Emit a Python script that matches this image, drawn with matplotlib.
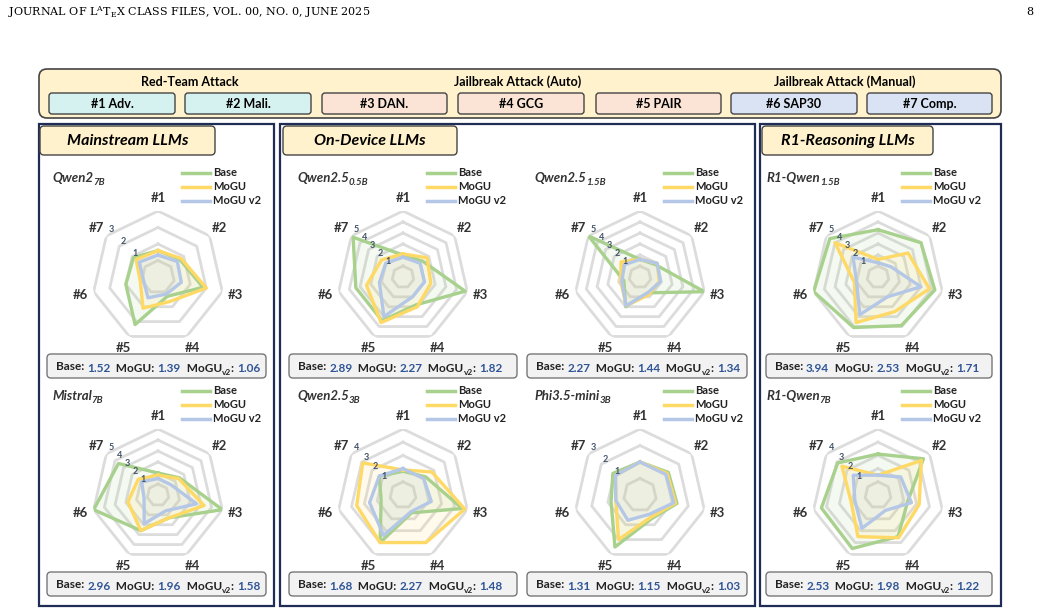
import matplotlib
matplotlib.use("Agg")
import matplotlib.pyplot as plt
from matplotlib.patches import FancyBboxPatch, Rectangle
import numpy as np

plt.rcParams['font.family'] = ['Lato', 'DejaVu Sans']

# ---- data -------------------------------------------------------------
axis_labels = ["#1", "#2", "#3", "#4", "#5", "#6", "#7"]
series_names = ["Base", "MoGU", "MoGU v2"]

model_names = ["Qwen2", "Qwen2.5", "Qwen2.5", "R1-Qwen",
               "Mistral", "Qwen2.5", "Phi3.5-mini", "R1-Qwen"]
model_subs = ["7B", "0.5B", "1.5B", "1.5B", "7B", "3B", "3B", "7B"]
ring_max = [3, 5, 5, 5, 5, 4, 3, 4]

base_vals = [
    [0.6, 0.7, 1.8, 0.3, 2.2, 1.0, 0.9],
    [1.0, 1.3, 4.8, 1.8, 3.4, 3.4, 4.8],
    [0.6, 0.8, 5.0, 0.6, 2.0, 0.5, 5.0],
    [3.3, 4.0, 4.3, 3.9, 4.1, 5.0, 4.6],
    [1.0, 1.5, 5.0, 1.3, 2.6, 5.0, 3.6],
    [0.8, 1.2, 3.6, 0.5, 3.0, 0.7, 1.3],
    [1.0, 1.2, 1.3, 0.6, 2.5, 0.8, 1.1],
    [2.1, 3.4, 1.3, 2.5, 3.5, 3.4, 2.9],
]
mogu_vals = [
    [0.6, 0.8, 2.0, 0.65, 1.1, 0.1, 0.7],
    [1.1, 1.8, 1.6, 2.0, 3.6, 2.4, 1.5],
    [0.6, 1.0, 0.8, 0.8, 1.9, 0.8, 1.2],
    [0.6, 2.5, 3.8, 2.5, 3.6, 1.2, 4.0],
    [0.8, 1.4, 3.3, 1.3, 2.6, 1.8, 1.3],
    [0.9, 1.8, 3.8, 3.0, 3.0, 2.6, 2.9],
    [1.0, 1.1, 1.2, 0.5, 2.0, 0.5, 0.9],
    [0.5, 3.2, 2.2, 2.6, 2.5, 1.1, 2.5],
]
mogu2_vals = [
    [0.33, 0.5, 0.45, 0.15, 0.4, -0.1, 0.45],
    [0.8, 1.0, 1.0, 1.0, 3.0, 1.2, 1.0],
    [0.6, 1.0, 0.9, 0.6, 1.9, 0.7, 0.8],
    [0.3, 0.5, 3.0, 1.0, 2.8, 1.0, 1.9],
    [0.5, 0.5, 2.6, 0.6, 1.9, 0.3, 0.9],
    [1.0, 1.0, 1.2, 0.4, 2.4, 1.6, 1.3],
    [1.0, 1.0, 1.1, 0.3, 0.7, 0.5, 0.9],
    [0.5, 1.2, 1.6, 0.3, 1.8, 0.8, 1.4],
]
avg_base = ["1.52", "2.89", "2.27", "3.94", "2.96", "1.68", "1.31", "2.53"]
avg_mogu = ["1.39", "2.27", "1.44", "2.53", "1.96", "2.27", "1.15", "1.98"]
avg_mogu2 = ["1.06", "1.82", "1.34", "1.71", "1.58", "1.48", "1.03", "1.22"]

groups = ["Red-Team Attack", "Jailbreak Attack (Auto)", "Jailbreak Attack (Manual)"]
attacks = ["#1 Adv.", "#2 Mali.", "#3 DAN.", "#4 GCG", "#5 PAIR", "#6 SAP30", "#7 Comp."]
sections = ["Mainstream LLMs", "On-Device LLMs", "R1-Reasoning LLMs"]

series_colors = ["#a9d18e", "#ffd966", "#b4c7e7"]
pill_colors = ["#d5f1f0", "#d5f1f0", "#fbe4d5", "#fbe4d5", "#fbe4d5", "#dae3f3", "#dae3f3"]
NAVY = "#1f2d55"
BLUE = "#2f5597"

W, H = 1041, 612
fig = plt.figure(figsize=(W / 100, H / 100), dpi=100)
cv = fig.add_axes([0, 0, 1, 1])
cv.set_xlim(0, W)
cv.set_ylim(H, 0)
cv.axis("off")

# page header
cv.text(8, 12, r"JOURNAL OF L$\mathregular{^A}$T$_\mathregular{E}$X CLASS FILES, VOL. 00, NO. 0, JUNE 2025",
        family="DejaVu Serif", fontsize=8, va="center")
cv.text(1033, 12, "8", family="DejaVu Serif", fontsize=8, va="center", ha="right")


def rbox(x0, y0, x1, y1, fc, ec="#555555", lw=1.0, pad=4):
    cv.add_patch(FancyBboxPatch((x0, y0), x1 - x0, y1 - y0,
                                boxstyle=f"round,pad=0,rounding_size={pad}",
                                fc=fc, ec=ec, lw=lw))


# attack legend box
rbox(39, 69, 1001, 118, "#fff2cc", ec="#444444", lw=1.2, pad=8)
for g, gx in zip(groups, [190, 518, 845]):
    cv.text(gx, 82, g, ha="center", va="center", fontsize=9, weight="bold")
pill_x = [(49, 175), (185, 311), (322, 447), (458, 584), (596, 721), (731, 857), (867, 992)]
for (a, b), lab, c in zip(pill_x, attacks, pill_colors):
    rbox(a, 93, b, 114, c, ec="#444444", lw=1.0, pad=3)
    cv.text((a + b) / 2, 104, lab, ha="center", va="center", fontsize=9, weight="bold")

# section panels
for x0, x1 in [(39, 274), (280, 755), (760, 1001)]:
    cv.add_patch(Rectangle((x0, 124), x1 - x0, 482, fc="none", ec=NAVY, lw=1.6))
for (x0, x1), s in zip([(40, 215), (283, 457), (762, 933)], sections):
    rbox(x0, 126, x1, 155, "#fff2cc", ec="#444444", lw=1.0, pad=4)
    cv.text((x0 + x1) / 2, 141, s, ha="center", va="center", fontsize=11.5,
            weight="bold", style="italic")

col_cx = [158, 403, 640, 878]
row_cy = [277, 495]
score_x = [(47, 266), (289, 517), (527, 747), (766, 992)]
score_y = [(354, 378), (572, 596)]
R = 66
theta = np.linspace(0, 2 * np.pi, 7, endpoint=False)
theta_c = np.append(theta, theta[0])


def chain(x, y, pieces):
    first = prev = None
    for txt, col, sub in pieces:
        kw = dict(fontsize=6 if sub else 8.5, weight="bold", color=col, va="baseline")
        if prev is None:
            first = prev = cv.text(x, y, txt, ha="left", **kw)
        else:
            prev = cv.annotate(txt, xy=(1, 0), xycoords=(prev, first),
                               xytext=(0, -2 if sub else 0), textcoords="offset points",
                               ha="left", **kw)


for i in range(8):
    r, c = divmod(i, 4)
    cx, cy = col_cx[c], row_cy[r]
    m = ring_max[i]
    ax = fig.add_axes([(cx - R) / W, 1 - (cy + R) / H, 2 * R / W, 2 * R / H], projection="polar")
    ax.set_theta_offset(np.pi / 2)
    ax.set_theta_direction(-1)
    ax.set_ylim(-1, m)
    ax.axis("off")
    ax.patch.set_alpha(0)
    for k in range(0, m + 1):
        ax.plot(theta_c, np.full(8, k), color="#dcdcdc", lw=2, zorder=1)
        if k >= 1:
            ax.text(theta[6] + 0.12, k, str(k), ha="center", va="center",
                    fontsize=6.5, weight="bold", color="#44546a", zorder=5)
    for vals, col in zip([base_vals[i], mogu_vals[i], mogu2_vals[i]], series_colors):
        v = np.append(vals, vals[0])
        ax.fill(theta_c, v, color=col, alpha=0.12, zorder=2)
        ax.plot(theta_c, v, color=col, lw=2.4, zorder=3)
    for t, lab in zip(theta, axis_labels):
        ax.text(t, m + (m + 1) * 0.2, lab, ha="center", va="center",
                fontsize=9.5, weight="bold", color="#333333", clip_on=False)

    # model title with subscript
    tx = cx - 106 if c != 3 else cx - 112
    ty = cy - 95
    t0 = cv.text(tx, ty, model_names[i], fontsize=9.5, weight="bold", style="italic",
                 color="#333333", va="baseline")
    cv.annotate(model_subs[i], xy=(1, 0), xycoords=(t0, t0), xytext=(0, -1),
                textcoords="offset points", fontsize=7, weight="bold", style="italic",
                color="#333333", va="baseline")

    # legend
    for j, (nm, col) in enumerate(zip(series_names, series_colors)):
        ly = cy - 104 + j * 14
        cv.plot([cx + 24, cx + 52], [ly, ly], color=col, lw=2.5)
        cv.text(cx + 55, ly, nm, fontsize=8, weight="bold", va="center", color="#222222")

    # score box
    x0, x1 = score_x[c]
    y0, y1 = score_y[r]
    rbox(x0, y0, x1, y1, "#f2f2f2", ec="#777777", lw=1.0, pad=4)
    chain(x0 + 9, y1 - 8, [("Base: ", "#222222", False), (avg_base[i], BLUE, False),
                           ("  MoGU: ", "#222222", False), (avg_mogu[i], BLUE, False),
                           ("  MoGU", "#222222", False), ("v2", "#222222", True),
                           (": ", "#222222", False), (avg_mogu2[i], BLUE, False)])

fig.savefig("out.png", dpi=100)
